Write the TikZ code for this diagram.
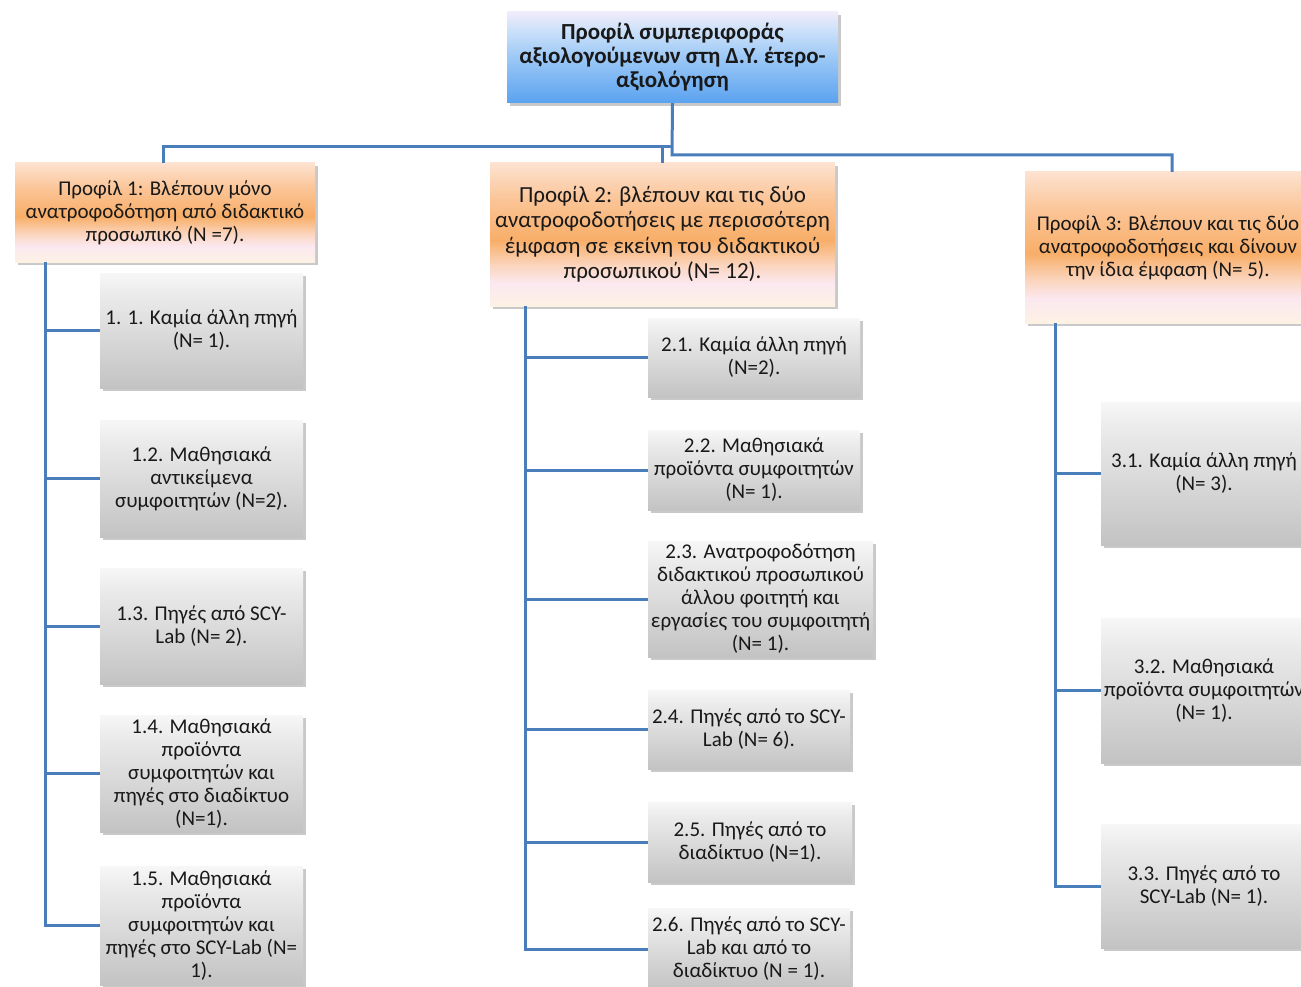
\documentclass[tikz,border=0pt]{standalone}
\usepackage{fontspec}
\setmainfont{Carlito}
\usetikzlibrary{shadows}

% palette
\definecolor{linkblue}{HTML}{4A7EBB}
\definecolor{blueT}{HTML}{F0ECFA}
\definecolor{blueL}{HTML}{CFE2FA}
\definecolor{blueM}{HTML}{9CC8F6}
\definecolor{blueB}{HTML}{5AA2F0}
\definecolor{orT}{HTML}{FDE2D0}
\definecolor{orU}{HTML}{FBC496}
\definecolor{orM}{HTML}{F8AE68}
\definecolor{orP}{HTML}{FBD6C0}
\definecolor{orW}{HTML}{FBE8F0}
\definecolor{orB}{HTML}{FDF1E4}
\definecolor{grT}{HTML}{F7F7F7}
\definecolor{grU}{HTML}{EBEBEB}
\definecolor{grB}{HTML}{C3C3C3}

% box fills (the path spans 25bp..75bp)
\pgfdeclareverticalshading{bluebox}{100bp}{color(0bp)=(blueB); color(25bp)=(blueB); color(50bp)=(blueM); color(66bp)=(blueL); color(75bp)=(blueT); color(100bp)=(blueT)}
\pgfdeclareverticalshading{orangebox}{100bp}{color(0bp)=(orB); color(25bp)=(orB); color(33bp)=(orW); color(39bp)=(orP); color(48bp)=(orM); color(62bp)=(orU); color(75bp)=(orT); color(100bp)=(orT)}
\pgfdeclareverticalshading{graybox}{100bp}{color(0bp)=(grB); color(25bp)=(grB); color(66bp)=(grU); color(75bp)=(grT); color(100bp)=(grT)}

\tikzset{
  box/.style={rectangle, inner sep=1pt, align=center, text=black!90,
    drop shadow={shadow xshift=3pt, shadow yshift=-3pt, opacity=.35, fill=black!60}},
  rootbox/.style={box, shading=bluebox, font=\bfseries\fontsize{23}{24}\selectfont},
  profbox/.style={box, shading=orangebox, font=\fontsize{21}{23}\selectfont},
  bigprof/.style={box, shading=orangebox, font=\fontsize{23}{25.5}\selectfont},
  leafbox/.style={box, shading=graybox, font=\fontsize{21}{23}\selectfont},
  link/.style={draw=linkblue, line width=3pt}
}

\begin{document}
\begin{tikzpicture}[x=1pt,y=-1pt]
\clip (0,0) rectangle (1301,987);
\fill[white] (0,0) rectangle (1301,987);

% root
\node[rootbox, minimum width=331, minimum height=91] (root) at (672.5,57.5)
  {Προφίλ συμπεριφοράς\\αξιολογούμενων στη Δ.Υ. έτερο-\\αξιολόγηση};

% profiles
\node[profbox, minimum width=300, minimum height=99] (p1) at (165,212.5)
  {Προφίλ 1: Βλέπουν μόνο\\ανατροφοδότηση από διδακτικό\\προσωπικό (Ν =7).};
\node[bigprof, minimum width=345, minimum height=143] (p2) at (662.5,234.5)
  {Προφίλ 2: βλέπουν και τις δύο\\ανατροφοδοτήσεις με περισσότερη\\έμφαση σε εκείνη του διδακτικού\\προσωπικού (Ν= 12).};
\node[profbox, minimum width=286, minimum height=151] (p3) at (1168,247.5)
  {Προφίλ 3: Βλέπουν και τις δύο\\ανατροφοδοτήσεις και δίνουν\\την ίδια έμφαση (Ν= 5).};

% profile 1 children
\node[leafbox, minimum width=203, minimum height=115] (a1) at (201.5,330.5)
  {1. 1. Καμία άλλη πηγή\\(Ν= 1).};
\node[leafbox, minimum width=203, minimum height=117] (a2) at (201.5,478.5)
  {1.2. Μαθησιακά\\αντικείμενα\\συμφοιτητών (Ν=2).};
\node[leafbox, minimum width=203, minimum height=116] (a3) at (201.5,626)
  {1.3. Πηγές από SCY-\\Lab (Ν= 2).};
\node[leafbox, minimum width=203, minimum height=117] (a4) at (201.5,773.5)
  {1.4. Μαθησιακά\\προϊόντα\\συμφοιτητών και\\πηγές στο διαδίκτυο\\(Ν=1).};
\node[leafbox, minimum width=203, minimum height=119] (a5) at (201.5,925.5)
  {1.5. Μαθησιακά\\προϊόντα\\συμφοιτητών και\\πηγές στο SCY-Lab (Ν=\\1).};

% profile 2 children
\node[leafbox, minimum width=212, minimum height=79] (b1) at (754,357.5)
  {2.1. Καμία άλλη πηγή\\(Ν=2).};
\node[leafbox, minimum width=212, minimum height=80] (b2) at (754,470)
  {2.2. Μαθησιακά\\προϊόντα συμφοιτητών\\(Ν= 1).};
\node[leafbox, minimum width=225, minimum height=116] (b3) at (760.5,599)
  {2.3. Ανατροφοδότηση\\διδακτικού προσωπικού\\άλλου φοιτητή και\\εργασίες του συμφοιτητή\\(Ν= 1).};
\node[leafbox, minimum width=202, minimum height=79] (b4) at (749,729.5)
  {2.4. Πηγές από το SCY-\\Lab (Ν= 6).};
\node[leafbox, minimum width=204, minimum height=80] (b5) at (750,842)
  {2.5. Πηγές από το\\διαδίκτυο (Ν=1).};
\node[leafbox, minimum width=202, minimum height=82] (b6) at (749,949)
  {2.6. Πηγές από το SCY-\\Lab και από το\\διαδίκτυο (Ν = 1).};

% profile 3 children
\node[leafbox, minimum width=206, minimum height=143] (c1) at (1204,473.5)
  {3.1. Καμία άλλη πηγή\\(Ν= 3).};
\node[leafbox, minimum width=206, minimum height=145] (c2) at (1204,690.5)
  {3.2. Μαθησιακά\\προϊόντα συμφοιτητών\\(Ν= 1).};
\node[leafbox, minimum width=206, minimum height=124] (c3) at (1204,886)
  {3.3. Πηγές από το\\SCY-Lab (Ν= 1).};

% top-level bus
\coordinate (busL) at (672,147);
\coordinate (busR) at (672,155);
\draw[link] (root.south) -- (busR) -| ([xshift=4pt]p3.north);
\draw[link] (busL) -| ([xshift=-2pt]p1.north);
\draw[link] (busL -| p2.north) -- (p2.north);

% trunks
\coordinate (t1) at (45,262);
\coordinate (t2) at (525,306);
\coordinate (t3) at (1055,323);
\draw[link] (t1) |- (a5.west);
\foreach \n in {a1,a2,a3,a4} \draw[link] (t1 |- \n.west) -- (\n.west);
\draw[link] (t2) |- (b6.west);
\foreach \n in {b1,b2,b3,b4,b5} \draw[link] (t2 |- \n.west) -- (\n.west);
\draw[link] (t3) |- (c3.west);
\foreach \n in {c1,c2} \draw[link] (t3 |- \n.west) -- (\n.west);
\end{tikzpicture}
\end{document}
